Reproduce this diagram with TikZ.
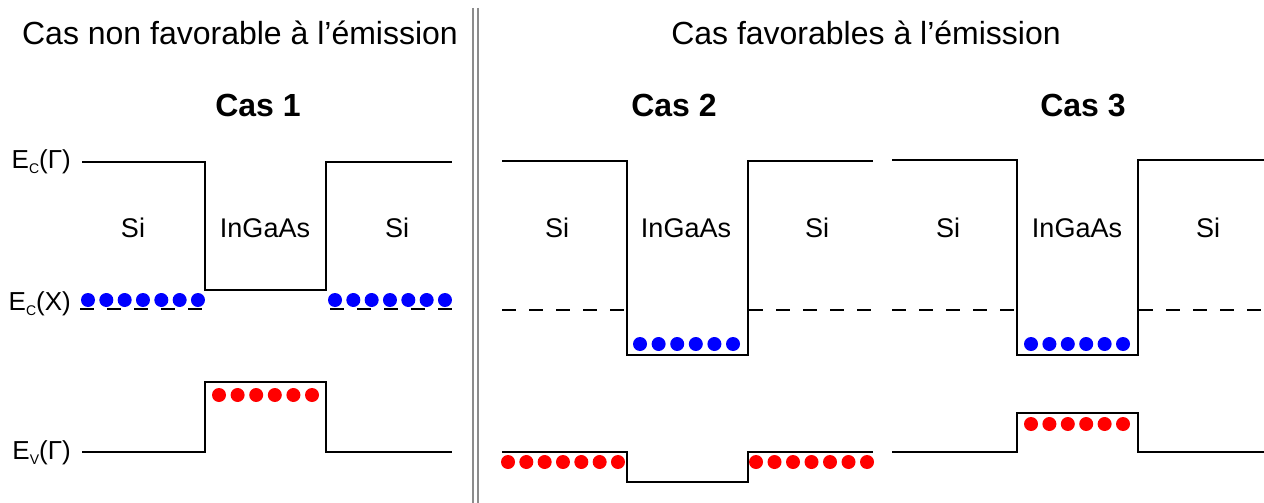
\documentclass[tikz,border=0pt]{standalone}
\usepackage{fontspec}
\setmainfont{Liberation Sans}
\begin{document}
\begin{tikzpicture}[x=1pt,y=-1pt,
  band/.style={line width=2.4pt,line join=miter},
  xband/.style={line width=2.4pt,dash pattern=on 14pt off 13pt},
  sep/.style={line width=1.6pt,draw=black!45},
  edot/.style={fill=blue},
  hdot/.style={fill=red},
  title/.style={anchor=base,inner sep=0pt,font=\fontsize{32}{38}\selectfont},
  casetitle/.style={anchor=base,inner sep=0pt,font=\fontsize{32}{38}\selectfont\bfseries},
  mat/.style={anchor=base,inner sep=0pt,font=\fontsize{27}{30}\selectfont},
  lvl/.style={anchor=base east,inner sep=0pt,font=\fontsize{26}{30}\selectfont}]
\useasboundingbox (0,0) rectangle (1264,503);
\fill[white] (0,0) rectangle (1264,503);

% separator
\draw[sep] (473,8) -- (473,503);
\draw[sep] (478,8) -- (478,503);

% titles
\node[title] (t1) at (240,45) {Cas non favorable à l’émission};
\node[title] (t2) at (866,45) {Cas favorables à l’émission};
\node[casetitle] (c1) at (258,117) {Cas 1};
\node[casetitle] (c2) at (674,117) {Cas 2};
\node[casetitle] (c3) at (1083,117) {Cas 3};

% level labels
\node[lvl] (lg) at (71,168) {E\raisebox{-5pt}{\fontsize{14}{14}\selectfont C}(Γ)};
\node[lvl] (lx) at (71,310) {E\raisebox{-5pt}{\fontsize{14}{14}\selectfont C}(X)};
\node[lvl] (lv) at (71,459) {E\raisebox{-5pt}{\fontsize{14}{14}\selectfont V}(Γ)};

% ---------- Case 1 ----------
\draw[band] (82,162) -- (205,162) -- (205,290) -- (326,290) -- (326,162) -- (452,162);
\draw[xband] (80,309) -- (205,309);
\draw[xband] (330,309) -- (452,309);
\draw[band] (82,452) -- (205,452) -- (205,382) -- (326,382) -- (326,452) -- (452,452);
\foreach \i in {0,...,6} {
  \fill[edot] ({88+\i*18.33},300) circle (7);
  \fill[edot] ({335+\i*18.33},300) circle (7);
}
\foreach \i in {0,...,5} \fill[hdot] ({219+\i*18.6},395) circle (7);
\node[mat] (s1a) at (133,237) {Si};
\node[mat] (i1) at (265,237) {InGaAs};
\node[mat] (s1b) at (397,237) {Si};

% ---------- Case 2 ----------
\draw[band] (502,161) -- (627,161) -- (627,355) -- (748,355) -- (748,161) -- (873,161);
\draw[xband] (502,310) -- (627,310);
\draw[xband] (749,310) -- (873,310);
\draw[band] (502,452) -- (627,452) -- (627,482) -- (748,482) -- (748,452) -- (873,452);
\foreach \i in {0,...,5} \fill[edot] ({640+\i*18.6},344) circle (7);
\foreach \i in {0,...,6} {
  \fill[hdot] ({508+\i*18.33},462) circle (7);
  \fill[hdot] ({756+\i*18.5},462) circle (7);
}
\node[mat] (s2a) at (557,237) {Si};
\node[mat] (i2) at (686,237) {InGaAs};
\node[mat] (s2b) at (817,237) {Si};

% ---------- Case 3 ----------
\draw[band] (892,160) -- (1017,160) -- (1017,355) -- (1138,355) -- (1138,160) -- (1264,160);
\draw[xband] (892,310) -- (1017,310);
\draw[xband] (1139,310) -- (1264,310);
\draw[band] (892,452) -- (1017,452) -- (1017,413) -- (1138,413) -- (1138,452) -- (1264,452);
\foreach \i in {0,...,5} {
  \fill[edot] ({1031+\i*18.4},344) circle (7);
  \fill[hdot] ({1031+\i*18.4},424) circle (7);
}
\node[mat] (s3a) at (948,237) {Si};
\node[mat] (i3) at (1077,237) {InGaAs};
\node[mat] (s3b) at (1208,237) {Si};
\end{tikzpicture}
\end{document}
